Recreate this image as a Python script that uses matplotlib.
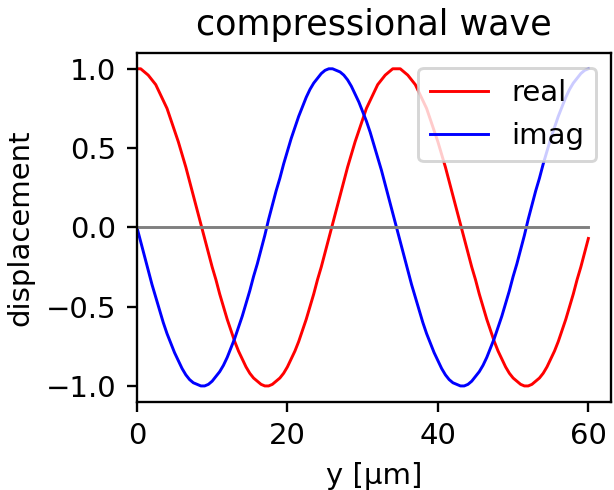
import matplotlib
matplotlib.use("Agg")
import matplotlib.pyplot as plt

y_um = [i * 0.5 for i in range(121)]

real_part = [
    1.00, 1.00, 0.98, 0.96, 0.93, 0.90, 0.85, 0.80, 0.75, 0.68,
    0.61, 0.54, 0.46, 0.38, 0.29, 0.20, 0.11, 0.02, -0.07, -0.16,
    -0.25, -0.33, -0.42, -0.50, -0.58, -0.65, -0.72, -0.78, -0.83, -0.88,
    -0.92, -0.95, -0.97, -0.99, -1.00, -1.00, -0.99, -0.97, -0.95, -0.92,
    -0.88, -0.83, -0.78, -0.72, -0.65, -0.58, -0.50, -0.42, -0.33, -0.25,
    -0.16, -0.07, 0.02, 0.11, 0.20, 0.29, 0.38, 0.46, 0.54, 0.61,
    0.68, 0.75, 0.80, 0.85, 0.90, 0.93, 0.96, 0.98, 1.00, 1.00,
    1.00, 0.98, 0.96, 0.93, 0.90, 0.85, 0.80, 0.75, 0.68, 0.61,
    0.54, 0.46, 0.38, 0.29, 0.20, 0.11, 0.02, -0.07, -0.16, -0.25,
    -0.33, -0.42, -0.50, -0.58, -0.65, -0.72, -0.78, -0.83, -0.88, -0.92,
    -0.95, -0.97, -0.99, -1.00, -1.00, -0.99, -0.97, -0.95, -0.92, -0.88,
    -0.83, -0.78, -0.72, -0.65, -0.58, -0.50, -0.42, -0.33, -0.25, -0.16,
    -0.07,
]

imag_part = [
    0.00, -0.09, -0.18, -0.27, -0.36, -0.44, -0.52, -0.60, -0.67, -0.73,
    -0.79, -0.84, -0.89, -0.93, -0.96, -0.98, -0.99, -1.00, -1.00, -0.99,
    -0.97, -0.94, -0.91, -0.87, -0.82, -0.76, -0.70, -0.63, -0.56, -0.48,
    -0.40, -0.31, -0.23, -0.14, -0.05, 0.05, 0.14, 0.23, 0.31, 0.40,
    0.48, 0.56, 0.63, 0.70, 0.76, 0.82, 0.87, 0.91, 0.94, 0.97,
    0.99, 1.00, 1.00, 0.99, 0.98, 0.96, 0.93, 0.89, 0.84, 0.79,
    0.73, 0.67, 0.60, 0.52, 0.44, 0.36, 0.27, 0.18, 0.09, 0.00,
    -0.09, -0.18, -0.27, -0.36, -0.44, -0.52, -0.60, -0.67, -0.73, -0.79,
    -0.84, -0.89, -0.93, -0.96, -0.98, -0.99, -1.00, -1.00, -0.99, -0.97,
    -0.94, -0.91, -0.87, -0.82, -0.76, -0.70, -0.63, -0.56, -0.48, -0.40,
    -0.31, -0.23, -0.14, -0.05, 0.05, 0.14, 0.23, 0.31, 0.40, 0.48,
    0.56, 0.63, 0.70, 0.76, 0.82, 0.87, 0.91, 0.94, 0.97, 0.99,
    1.00,
]

zero_line = [0.0] * len(y_um)

dpi = 210
fig = plt.figure(figsize=(614 / dpi, 490 / dpi), dpi=dpi)
ax = fig.add_axes([0.223, 0.180, 0.772, 0.712])

ax.plot(y_um, real_part, color="red", linewidth=1.0, label="real")
ax.plot(y_um, imag_part, color="blue", linewidth=1.0, label="imag")
ax.plot(y_um, zero_line, color="gray", linewidth=1.0)

ax.set_xlim(0, 63)
ax.set_xticks([0, 20, 40, 60])
ax.set_yticks([-1.0, -0.5, 0.0, 0.5, 1.0])

ax.set_xlabel("y [µm]")
ax.set_ylabel("displacement")
ax.set_title("compressional wave")
ax.legend(loc="upper right")

fig.savefig("out.png", dpi=dpi)
